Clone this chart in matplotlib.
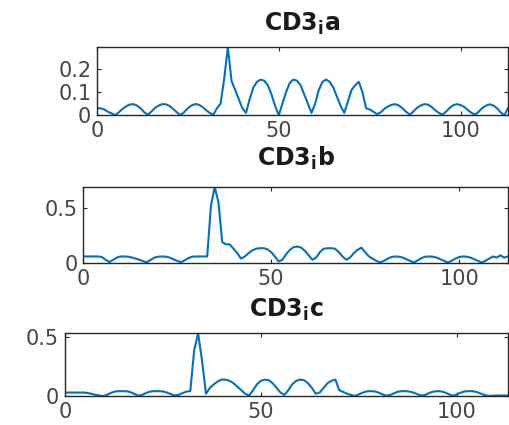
import numpy as np
import matplotlib.pyplot as plt

# Datos (muestreo cada unidad, x = 0..113)
cd3_a = [0.030, 0.030, 0.025, 0.015, 0.008, 0.000, 0.012, 0.027, 0.038, 0.046,
         0.048, 0.042, 0.030, 0.013, 0.002, 0.016, 0.032, 0.042, 0.048, 0.047,
         0.040, 0.026, 0.012, 0.000, 0.013, 0.030, 0.042, 0.048, 0.046, 0.036,
         0.022, 0.010, 0.002, 0.030, 0.050, 0.160, 0.296, 0.150, 0.110, 0.070,
         0.030, 0.010, 0.070, 0.120, 0.145, 0.155, 0.150, 0.130, 0.090, 0.040,
         0.000, 0.050, 0.100, 0.140, 0.155, 0.150, 0.130, 0.090, 0.050, 0.010,
         0.050, 0.110, 0.145, 0.155, 0.145, 0.120, 0.080, 0.040, 0.010, 0.060,
         0.110, 0.130, 0.145, 0.100, 0.030, 0.025, 0.015, 0.005, 0.012, 0.027,
         0.038, 0.045, 0.048, 0.042, 0.030, 0.015, 0.002, 0.016, 0.032, 0.042,
         0.048, 0.046, 0.036, 0.022, 0.010, 0.002, 0.016, 0.032, 0.044, 0.048,
         0.044, 0.036, 0.022, 0.010, 0.002, 0.016, 0.032, 0.042, 0.047, 0.042,
         0.030, 0.012, 0.000, 0.030]

cd3_b = [0.060, 0.060, 0.060, 0.060, 0.060, 0.055, 0.030, 0.010, 0.030, 0.050,
         0.060, 0.060, 0.058, 0.050, 0.040, 0.030, 0.015, 0.008, 0.030, 0.050,
         0.058, 0.060, 0.058, 0.050, 0.035, 0.020, 0.008, 0.025, 0.045, 0.058,
         0.060, 0.060, 0.060, 0.060, 0.520, 0.690, 0.550, 0.190, 0.170, 0.170,
         0.130, 0.090, 0.040, 0.060, 0.090, 0.115, 0.130, 0.135, 0.135, 0.125,
         0.100, 0.060, 0.015, 0.030, 0.080, 0.120, 0.145, 0.150, 0.140, 0.110,
         0.070, 0.030, 0.050, 0.100, 0.130, 0.135, 0.135, 0.130, 0.100, 0.060,
         0.030, 0.050, 0.090, 0.120, 0.140, 0.100, 0.060, 0.040, 0.020, 0.005,
         0.020, 0.040, 0.055, 0.060, 0.058, 0.050, 0.035, 0.020, 0.005, 0.025,
         0.045, 0.058, 0.060, 0.058, 0.050, 0.035, 0.020, 0.005, 0.020, 0.040,
         0.055, 0.060, 0.058, 0.050, 0.035, 0.020, 0.005, 0.020, 0.040, 0.060,
         0.050, 0.070, 0.050, 0.060]

cd3_c = [0.030, 0.030, 0.030, 0.030, 0.030, 0.030, 0.025, 0.018, 0.010, 0.004,
         0.000, 0.015, 0.030, 0.040, 0.042, 0.042, 0.040, 0.030, 0.015, 0.002,
         0.015, 0.030, 0.040, 0.042, 0.042, 0.040, 0.030, 0.018, 0.005, 0.010,
         0.025, 0.038, 0.042, 0.390, 0.534, 0.300, 0.020, 0.070, 0.100, 0.125,
         0.140, 0.140, 0.130, 0.110, 0.080, 0.050, 0.020, 0.005, 0.050, 0.100,
         0.130, 0.140, 0.135, 0.110, 0.070, 0.030, 0.010, 0.050, 0.100, 0.130,
         0.140, 0.135, 0.110, 0.070, 0.020, 0.030, 0.070, 0.110, 0.130, 0.140,
         0.050, 0.035, 0.020, 0.010, 0.000, 0.015, 0.030, 0.040, 0.042, 0.040,
         0.030, 0.015, 0.003, 0.010, 0.025, 0.038, 0.042, 0.042, 0.038, 0.028,
         0.015, 0.003, 0.012, 0.028, 0.038, 0.042, 0.040, 0.030, 0.015, 0.002,
         0.015, 0.030, 0.040, 0.042, 0.042, 0.035, 0.022, 0.010, 0.002, 0.003,
         0.005, 0.005, 0.005, 0.005]

titles = [r'CD3$_\mathbf{i}$a', r'CD3$_\mathbf{i}$b', r'CD3$_\mathbf{i}$c']
series = [cd3_a, cd3_b, cd3_c]
yticks = [[0, 0.1, 0.2], [0, 0.5], [0, 0.5]]
xticks = [0, 50, 100]

# posiciones de cada subplot (left, bottom, width, height)
positions = [[0.190, 0.729, 0.806, 0.160],
             [0.163, 0.381, 0.833, 0.179],
             [0.127, 0.068, 0.869, 0.148]]
title_pads = [12, 15, 12]

fig = plt.figure(figsize=(5.1, 4.25), dpi=100)
gray = '#262626'

for vals, title, yt, pos, tp in zip(series, titles, yticks, positions, title_pads):
    ax = fig.add_axes(pos)
    x = np.arange(len(vals))
    ax.plot(x, vals, color='#0072BD', linewidth=1.5)
    ax.set_xlim(0, 113)
    ax.set_ylim(0, max(vals))
    ax.set_xticks(xticks)
    ax.set_yticks(yt)
    ax.set_yticklabels([f'{v:g}' for v in yt])
    ax.tick_params(direction='in', length=3, width=0.8, colors=gray,
                   labelcolor='#454545', labelsize=15, top=True, right=True,
                   pad=4)
    for s in ax.spines.values():
        s.set_color(gray)
        s.set_linewidth(1.0)
    ax.set_title(title, fontsize=17, fontweight='bold', pad=tp, color='#1a1a1a')

plt.savefig('out.png', dpi=100)
